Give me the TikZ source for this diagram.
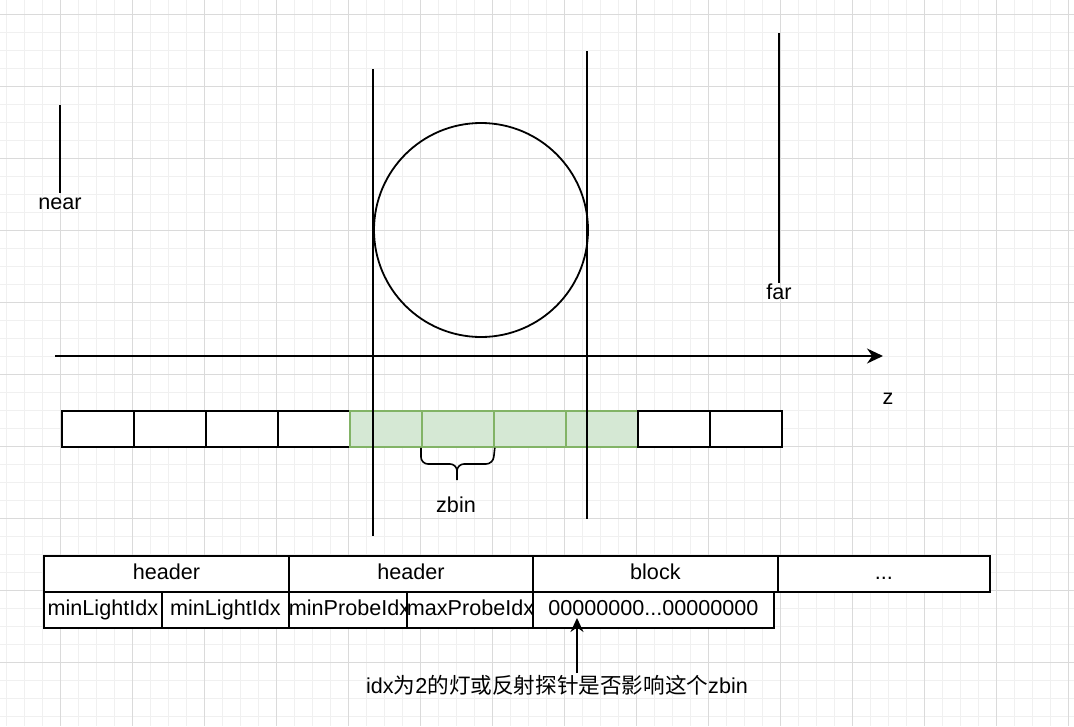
\documentclass[tikz,border=0pt]{standalone}
\usepackage{fontspec}
\setmainfont{Liberation Sans}
\newfontfamily\cjk{Noto Sans CJK SC}
\usetikzlibrary{arrows.meta}
\definecolor{gfill}{HTML}{D5E8D4}
\definecolor{gline}{HTML}{82B366}
\definecolor{gridminor}{HTML}{F0F0F0}
\definecolor{gridmajor}{HTML}{DADADA}
\begin{document}
\begin{tikzpicture}[x=1pt,y=-1pt,
  font=\fontsize{21.6}{26}\selectfont,
  ln/.style={line width=1.8pt, black},
  arr/.style={ln, -{Stealth[length=16pt,width=15pt]}},
  cellbox/.style={draw, line width=1.8pt, minimum width=72pt, minimum height=36pt, inner sep=0pt, anchor=north west, fill=white},
  greencell/.style={cellbox, fill=gfill, draw=gline},
  tcell/.style={draw, line width=1.8pt, inner sep=0pt, anchor=north west, fill=white, text height=15.5pt, text depth=4.5pt},
  lbl/.style={inner sep=0pt, text height=15.5pt, text depth=4.5pt}]
\useasboundingbox (0,0) rectangle (1074,726);
% grid background
\fill[white] (0,0) rectangle (1074,726);
\foreach \x in {6,24,...,1074} \draw[gridminor, line width=1pt] (\x,0) -- (\x,726);
\foreach \y in {14,32,...,726} \draw[gridminor, line width=1pt] (0,\y) -- (1074,\y);
\foreach \x in {60,132,...,1074} \draw[gridmajor, line width=1pt] (\x,0) -- (\x,726);
\foreach \y in {14,86,...,726} \draw[gridmajor, line width=1pt] (0,\y) -- (1074,\y);

% near / far markers
\coordinate (nearT) at (60,105);
\coordinate (nearB) at (60,193);
\draw[ln] (nearT) -- (nearB);
\node[lbl] (near) at (60,204) {near};
\coordinate (farT) at (779,33);
\coordinate (farB) at (779,283);
\draw[ln] (farT) -- (farB);
\node[lbl] (far) at (779,294) {far};

% circle
\node[draw, line width=1.8pt, circle, minimum size=214pt, inner sep=0pt] (sphere) at (481,230) {};

% z axis
\coordinate (ax1) at (55,356);
\coordinate (ax2) at (883,356);
\draw[arr] (ax1) -- (ax2);
\node[lbl] (zlab) at (888,399) {z};

% cells
\foreach \i in {0,1,2,3,8,9} \node[cellbox] (c\i) at (61+72*\i,410) {};
\foreach \i in {4,5,6,7} \node[greencell] (c\i) at (61+72*\i,410) {};
\node[cellbox] (c8b) at (637,410) {};

% vertical bounds
\coordinate (v1T) at (373,69);
\coordinate (v1B) at (373,536);
\coordinate (v2T) at (587,51);
\coordinate (v2B) at (587,519);
\draw[ln] (v1T) -- (v1B);
\draw[ln] (v2T) -- (v2B);

% brace
\draw[ln, line width=1.6pt, rounded corners=7pt] (c5.south west) -- (421,464) -- (457,464) -- (457,472);
\draw[ln, line width=1.6pt, rounded corners=7pt] (c5.south east) -- (493,464) -- (457,464) -- (457,480);
\node[lbl] (zbin) at (456,507) {zbin};

% bottom table
\node[tcell, minimum width=245pt, minimum height=36pt] (h1) at (43,555) {header};
\node[tcell, minimum width=244pt, minimum height=36pt] (h2) at (288,555) {header};
\node[tcell, minimum width=245pt, minimum height=36pt] (blk) at (532,555) {block};
\node[tcell, minimum width=212pt, minimum height=36pt] (dots) at (777,555) {...};
\node[tcell, minimum width=118pt, minimum height=36pt] (m1) at (43,591) {minLightIdx};
\node[tcell, minimum width=127pt, minimum height=36pt] (m2) at (161,591) {minLightIdx};
\node[tcell, minimum width=118pt, minimum height=36pt] (m3) at (288,591) {minProbeIdx};
\node[tcell, minimum width=126pt, minimum height=36pt] (m4) at (406,591) {maxProbeIdx};
\node[tcell, minimum width=241pt, minimum height=36pt] (bits) at (532,591) {00000000...00000000};

% annotation
\node[lbl] (note) at (557,688) {idx{\cjk 为}2{\cjk 的灯或反射探针是否影响这个}zbin};
\coordinate (noteTop) at (577,673);
\coordinate (bitTarget) at (577,618);
\draw[ln, -{Stealth[length=14pt,width=13pt]}] (noteTop) -- (bitTarget);
\end{tikzpicture}
\end{document}
